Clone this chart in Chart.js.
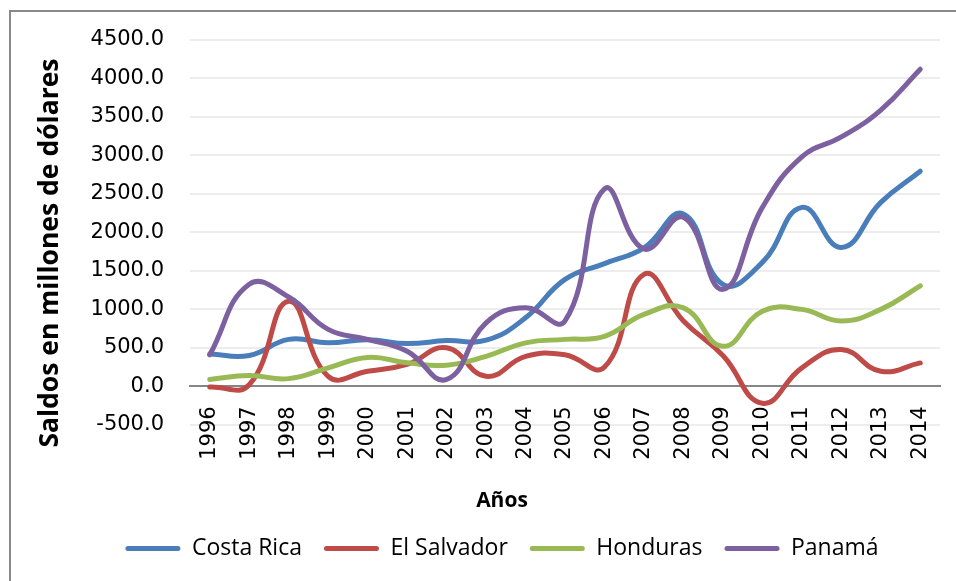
<!DOCTYPE html>
<html lang="es">
<head>
<meta charset="utf-8">
<title>Saldos en millones de dólares</title>
<script src="https://cdn.jsdelivr.net/npm/chart.js@4.4.1/dist/chart.umd.min.js"></script>
<style>
  html, body { margin: 0; padding: 0; background: #fff; }
  .wrap { position: relative; width: 956px; height: 581px; overflow: hidden; }
  .marco { position: absolute; left: 9px; top: 10px; width: 1000px; height: 1000px; border: 2px solid #898989; }
  canvas { position: absolute; left: 0; top: 0; }
</style>
</head>
<body>
<div class="wrap">
  <div class="marco"></div>
  <canvas id="chartSaldos" width="956" height="581"></canvas>
</div>
<script>
// --- Datos ---
const anios = ['1996', '1997', '1998', '1999', '2000', '2001', '2002', '2003', '2004', '2005',
               '2006', '2007', '2008', '2009', '2010', '2011', '2012', '2013', '2014'];

const costaRica  = [420, 400, 610, 565, 605, 555, 595, 600, 890, 1390, 1595, 1800, 2240, 1325, 1610, 2325, 1805, 2390, 2795];
const elSalvador = [-10, 20, 1105, 130, 195, 285, 500, 130, 390, 410, 250, 1455, 850, 400, -220, 240, 478, 196, 304];
const honduras   = [90, 140, 100, 240, 375, 305, 275, 390, 565, 610, 650, 935, 1020, 520, 975, 1000, 850, 1000, 1305];
const panama     = [410, 1325, 1160, 740, 610, 455, 90, 825, 1020, 850, 2565, 1785, 2195, 1260, 2325, 2980, 3240, 3590, 4120];

const series = [
    { label: 'Costa Rica',  data: costaRica,  color: '#4A7EBB' },
    { label: 'El Salvador', data: elSalvador, color: '#BE4B48' },
    { label: 'Honduras',    data: honduras,   color: '#98B954' },
    { label: 'Panamá',      data: panama,     color: '#7D60A0' }
];

// --- Gráfico ---
const ctx = document.getElementById('chartSaldos');

new Chart(ctx, {
    type: 'line',
    data: {
        labels: anios,
        datasets: series.map((s, i) => ({
            label: s.label,
            data: s.data,
            borderColor: s.color,
            backgroundColor: s.color,
            borderWidth: 5,
            borderCapStyle: 'round',
            borderJoinStyle: 'round',
            pointRadius: 0,
            tension: 0.45,
            fill: false,
            order: series.length - i   // Panamá queda encima, como en Excel
        }))
    },
    options: {
        responsive: false,
        animation: false,
        layout: { padding: { left: 64, right: 16, top: 40, bottom: 11 } },
        plugins: {
            title: {
                display: true,
                position: 'bottom',
                text: 'Años',
                color: '#000',
                font: { family: 'Open Sans', size: 21, weight: 'bold' },
                padding: { top: 64, bottom: 1 }
            },
            legend: {
                position: 'bottom',
                weight: 3000,
                labels: {
                    boxWidth: 55,
                    boxHeight: 5,
                    padding: 22,
                    color: '#000',
                    font: { family: 'Open Sans', size: 23 },
                    useBorderRadius: true,
                    borderRadius: 2.5,
                    sort: (a, b) => a.datasetIndex - b.datasetIndex,
                    generateLabels(chart) {
                        return Chart.defaults.plugins.legend.labels.generateLabels(chart)
                            .map(l => ({ ...l, lineWidth: 0, fillStyle: l.strokeStyle }));
                    }
                }
            },
            tooltip: { enabled: false }
        },
        scales: {
            x: {
                type: 'category',
                offset: true,
                position: { y: 0 },
                // las etiquetas giradas no deben encoger el área del gráfico
                afterFit: (scale) => { scale.paddingLeft = 0; scale.paddingRight = 0; },
                grid: { display: false, drawTicks: false },
                border: { display: true, color: '#868686', width: 2 },
                ticks: {
                    autoSkip: false,
                    minRotation: 90,
                    maxRotation: 90,
                    padding: 20,
                    color: '#000',
                    font: { family: 'DejaVu Sans', size: 21 }
                }
            },
            y: {
                min: -500,
                max: 4500,
                afterFit: (scale) => { scale.width = 126; },
                grid: { color: '#EDEDED', lineWidth: 2, drawTicks: false },
                border: { display: false },
                ticks: {
                    stepSize: 500,
                    padding: 26,
                    color: '#000',
                    font: { family: 'DejaVu Sans', size: 21 },
                    callback: (v) => Number(v).toFixed(1)
                },
                title: {
                    display: true,
                    text: 'Saldos en millones de dólares      ',
                    color: '#000',
                    font: { family: 'Open Sans', size: 26.5, weight: 'bold' },
                    padding: { top: -29, bottom: 0 }
                }
            }
        }
    }
});
</script>
</body>
</html>
